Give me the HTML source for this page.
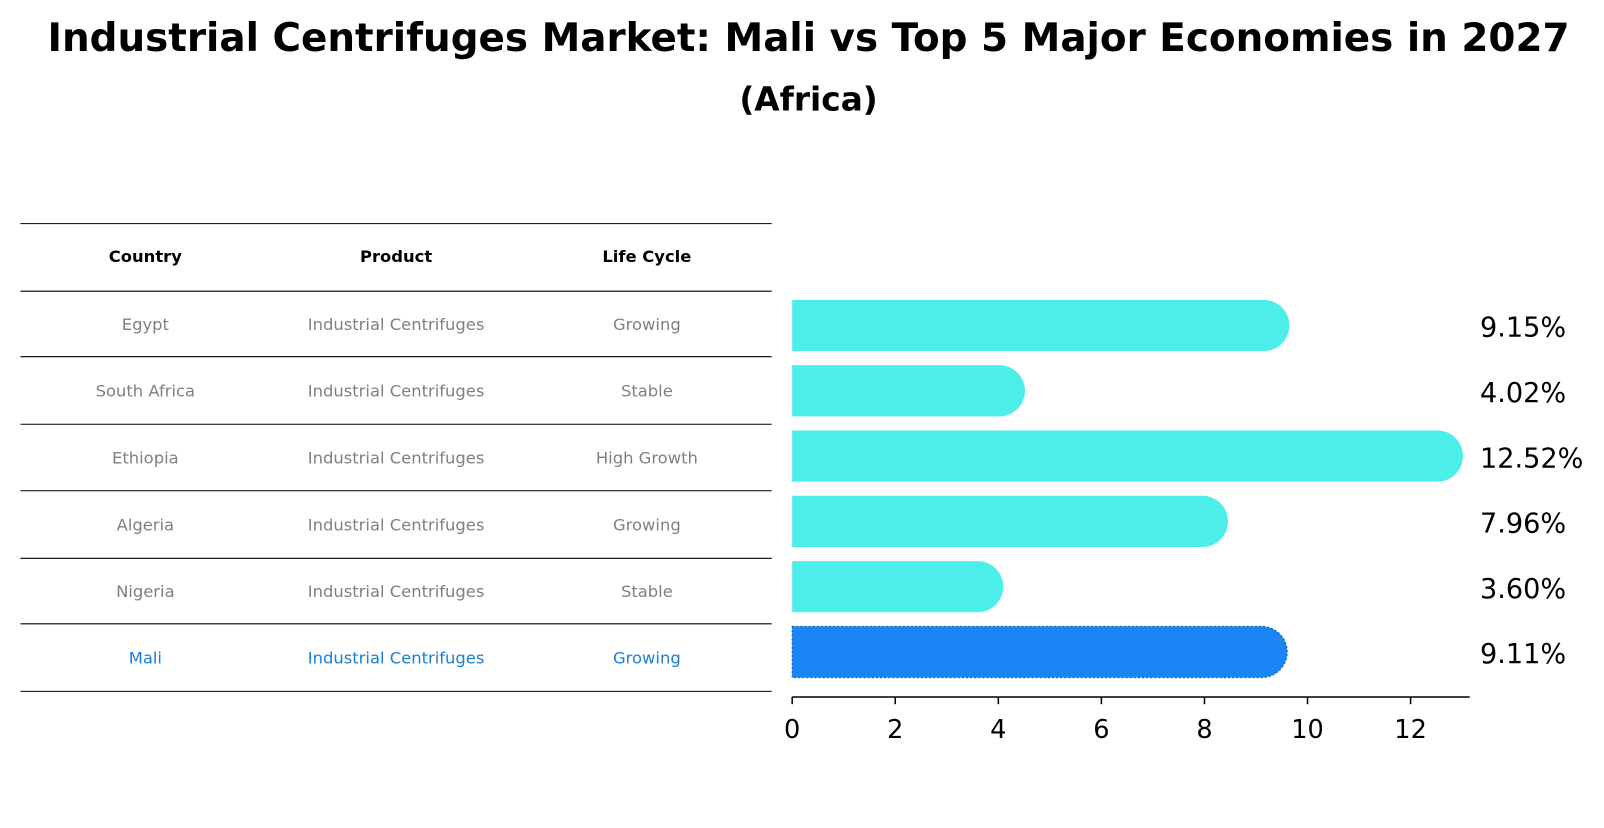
<!DOCTYPE html>
<html><head><meta charset="utf-8"><style>
body{margin:0;background:#fff;font-family:"Liberation Sans","DejaVu Sans",sans-serif}
</style></head><body>
<svg width="1604" height="823" xmlns="http://www.w3.org/2000/svg" style="font-family:'DejaVu Sans','Liberation Sans',sans-serif">
<g transform="scale(1.0235)">
<text x="790" y="50" text-anchor="middle" font-size="38" font-weight="bold">Industrial Centrifuges Market: Mali vs Top 5 Major Economies in 2027</text>
<text x="790" y="108" text-anchor="middle" font-size="32" font-weight="bold">(Africa)</text>
<g id="table"></g>
<g id="bars"></g>
<g id="axis"></g>
</g>
</svg>
<script>
const countries=["Egypt","South Africa","Ethiopia","Algeria","Nigeria","Mali"];
const products=["Industrial Centrifuges","Industrial Centrifuges","Industrial Centrifuges","Industrial Centrifuges","Industrial Centrifuges","Industrial Centrifuges"];
const lifecycles=["Growing","Stable","High Growth","Growing","Stable","Growing"];
const values=[9.15,4.02,12.52,7.96,3.60,9.11];
const ticks=[0,2,4,6,8,10,12];
const NS="http://www.w3.org/2000/svg";
function mk(t,a,p,txt){const e=document.createElementNS(NS,t);for(const k in a)e.setAttribute(k,a[k]);if(txt!==undefined)e.textContent=txt;p.appendChild(e);return e;}
const X=v=>774+v*50.35;
const rowY=i=>318+i*63.8;
const tbl=document.getElementById('table');
const lines=[218.5,284.5,348.5,414.5,479.5,545.5,609.5,675.5];
lines.forEach(y=>{const l=mk('line',{x1:20,x2:754,y1:y,y2:y,stroke:'#000','stroke-width':1},tbl);

});
const cols=[142,387,632];
["Country","Product","Life Cycle"].forEach((h,j)=>{const t=mk('text',{x:cols[j],y:256,'text-anchor':'middle','font-size':16,'font-weight':'bold'},tbl,h);

});
countries.forEach((c,i)=>{const y=(lines[i+1]+lines[i+2])/2+6;const col=i===5?'#1a7fd4':'#808080';
[c,products[i],lifecycles[i]].forEach((s,j)=>{const t=mk('text',{x:cols[j],y:y,'text-anchor':'middle','font-size':16,fill:col},tbl,s);

});});
const bars=document.getElementById('bars');
values.forEach((v,i)=>{const cy=rowY(i),r=25;const col=i===5?'#1a85f5':'#4ceeea';
const g=mk('g',{},bars);


const x0=X(0),x1=X(v);
mk('path',{d:`M${x0},${cy-r} L${x1},${cy-r} A${r},${r} 0 0 1 ${x1},${cy+r} L${x0},${cy+r} Z`,fill:col,stroke:i===5?'#0f5fc0':'none','stroke-dasharray':'2,2','stroke-width':1},g);
const t=mk('text',{x:1446,y:cy+11,'font-size':26.5},bars,v.toFixed(2)+'%');

});
const ax=document.getElementById('axis');
mk('line',{x1:774,x2:1436,y1:681,y2:681,stroke:'#000','stroke-width':1.5},ax);
ticks.forEach(v=>{mk('line',{x1:X(v),x2:X(v),y1:681,y2:688,stroke:'#000','stroke-width':1.5},ax);
const t=mk('text',{x:X(v),y:721,'text-anchor':'middle','font-size':25},ax,v);

});
</script>
</body></html>
